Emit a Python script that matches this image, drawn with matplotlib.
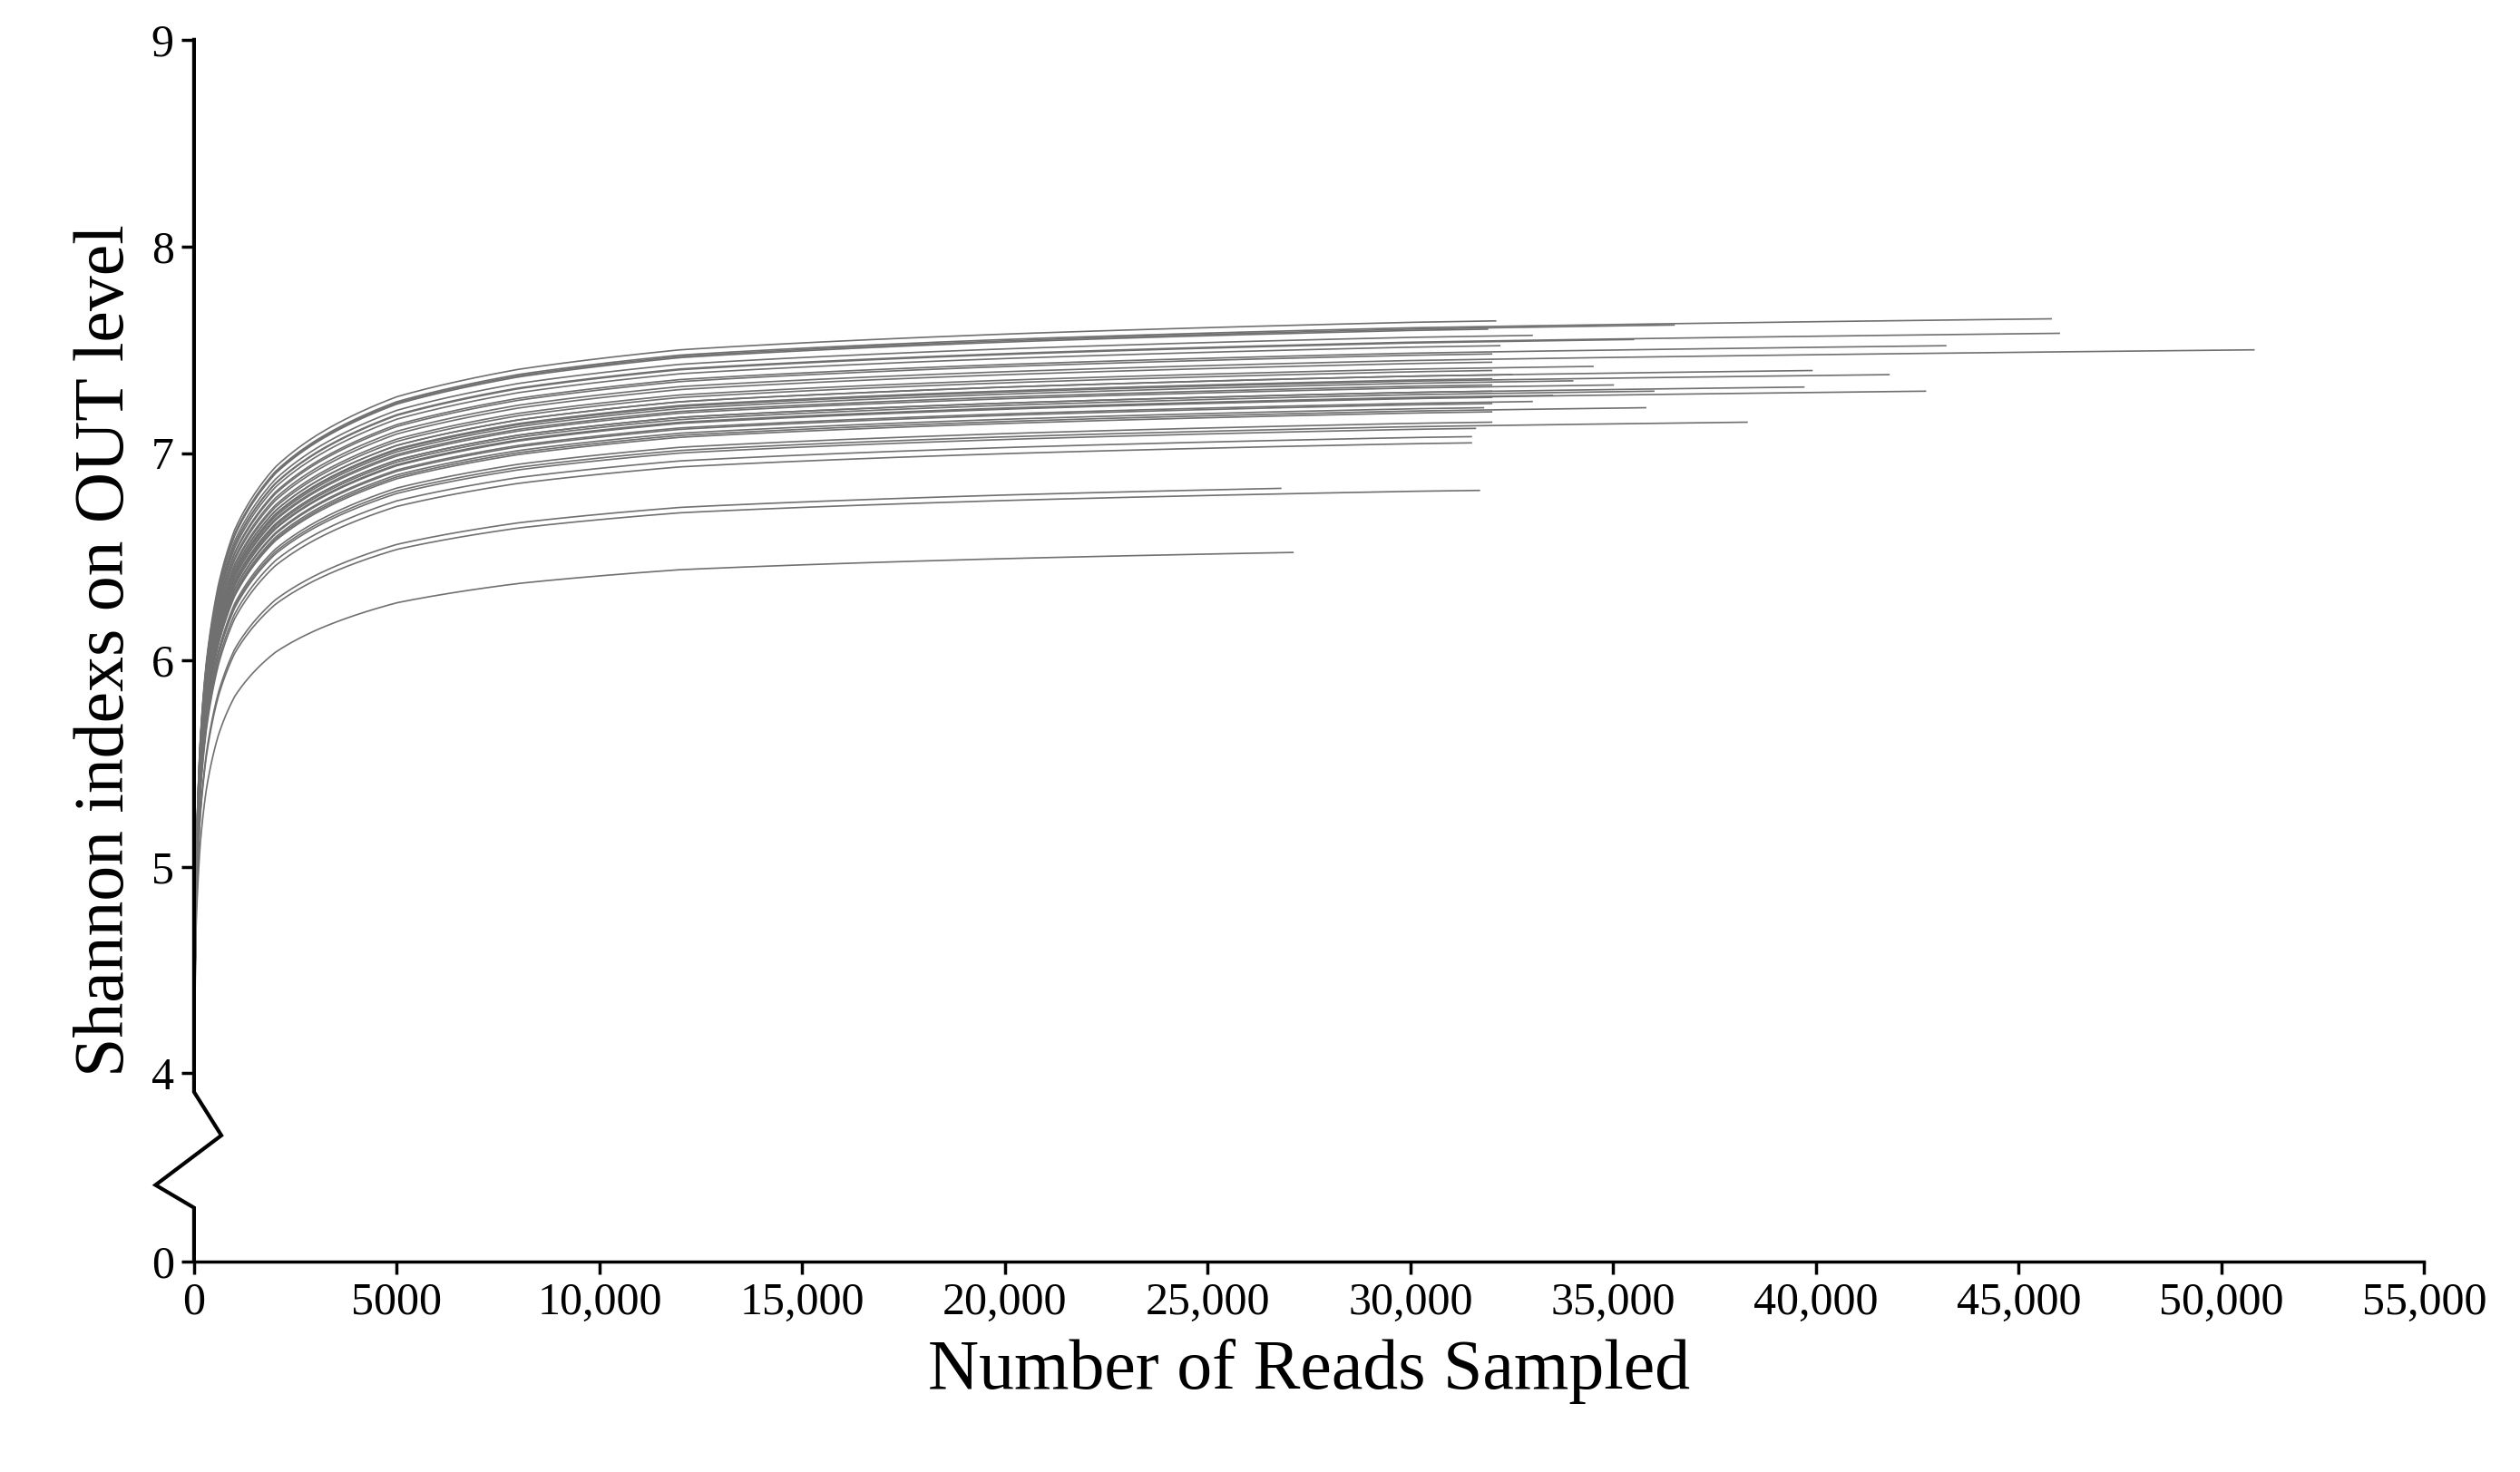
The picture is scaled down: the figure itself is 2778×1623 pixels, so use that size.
import numpy as np
import matplotlib
matplotlib.use("Agg")
import matplotlib.pyplot as plt

plt.rcParams['font.family'] = ['Liberation Serif', 'DejaVu Serif']

# Shared rarefaction profile (fraction of rise from start level)
profile_x = [0, 50, 150, 300, 600, 1000, 2000, 3000, 5000, 8000, 12000, 20000, 30000, 52000]
profile_f = [0, 0.30, 0.45, 0.55, 0.65, 0.72, 0.80, 0.84, 0.89, 0.925, 0.95, 0.97, 0.985, 1.0]
start_level = 3.9

# Curve end points (reads sampled, Shannon index at end)
end_x = [27100, 31700, 26800, 31500, 31500, 31600, 38300, 35800, 42700, 39700,
         41800, 39900, 36000, 34000, 35000, 50800, 43200, 46000, 45800, 36500,
         35500, 32000, 32000, 32000, 32000, 32000, 32000, 32000, 32000, 32000,
         33000, 33500, 31800, 32500, 34500, 32200, 33000, 31900, 32100, 32000]
end_y = [6.52, 6.82, 6.83, 7.05, 7.08, 7.12, 7.15, 7.22, 7.30, 7.32,
         7.38, 7.40, 7.30, 7.35, 7.33, 7.50, 7.52, 7.58, 7.65, 7.62,
         7.55, 7.20, 7.24, 7.27, 7.30, 7.33, 7.36, 7.40, 7.44, 7.48,
         7.25, 7.28, 7.22, 7.38, 7.42, 7.52, 7.57, 7.60, 7.64, 7.15]

x_ticks = [0, 5000, 10000, 15000, 20000, 25000, 30000, 35000, 40000, 45000, 50000, 55000]
x_labels = ['0', '5000', '10,000', '15,000', '20,000', '25,000', '30,000', '35,000',
            '40,000', '45,000', '50,000', '55,000']
y_values = [0, 4, 5, 6, 7, 8, 9]

ZERO_POS = -0.91
def ypos(v):
    v = np.asarray(v, dtype=float)
    return np.where(v >= 4, v - 4, ZERO_POS + (v / 4.0) * (-ZERO_POS))

fig = plt.figure(figsize=(27.78, 16.23), dpi=100)
ax = fig.add_axes([0.077, 0.143, 0.885, 0.83])

lpx = np.log(np.array(profile_x) + 50.0)
for ex, ey in zip(end_x, end_y):
    xs = np.geomspace(1, ex, 800) - 1
    fend = np.interp(np.log(ex + 50.0), lpx, profile_f)
    plateau = start_level + (ey - start_level) / fend
    ys = start_level + (plateau - start_level) * np.interp(np.log(xs + 50.0), lpx, profile_f)
    ax.plot(xs, ys - 4, color='#707070', lw=1.2)

ax.set_xlim(0, 55000)
ax.set_ylim(ZERO_POS, 5)
ax.set_xticks(x_ticks)
ax.set_xticklabels(x_labels)
ax.set_yticks(ypos(y_values))
ax.set_yticklabels([str(v) for v in y_values])
ax.tick_params(axis='both', labelsize=36, length=10, width=2.5, direction='out', pad=6)
for s in ['top', 'right', 'left']:
    ax.spines[s].set_visible(False)
ax.spines['bottom'].set_linewidth(2.5)

# left spine with break zigzag
bx = [0, 0, 674, -950, 0, 0]
by = [5, -0.09, -0.30, -0.54, -0.65, ZERO_POS]
ax.plot(bx, by, color='black', lw=3, clip_on=False, solid_joinstyle='miter')

ax.set_xlabel('Number of Reads Sampled', fontsize=56, labelpad=12)
ax.set_ylabel('Shannon indexs on OUT level', fontsize=56, labelpad=10)

fig.savefig('out.png', dpi=100, facecolor='white')
